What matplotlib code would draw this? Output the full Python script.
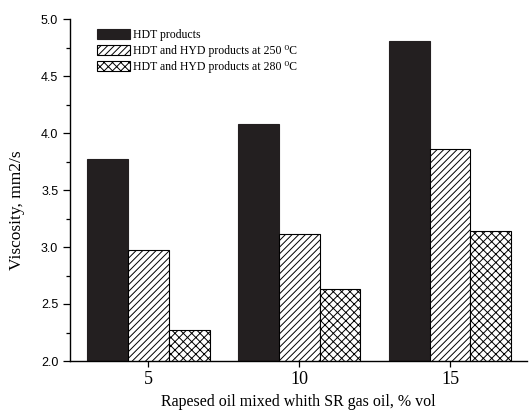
import numpy as np
import matplotlib.pyplot as plt
from matplotlib.ticker import MultipleLocator

# Daten
categories = ['5', '10', '15']
hdt = [3.77, 4.08, 4.81]
hyd_250 = [2.97, 3.11, 3.86]
hyd_280 = [2.27, 2.63, 3.14]
labels = ['HDT products', 'HDT and HYD products at 250 \u2070C', 'HDT and HYD products at 280 \u2070C']

plt.rcParams['hatch.linewidth'] = 0.7
serif = 'Liberation Serif'

fig = plt.figure(figsize=(5.3, 4.12), dpi=100)
ax = fig.add_axes([70 / 530, 51 / 412, 457 / 530, 342 / 412])

x = np.arange(1, len(categories) + 1)
w = 0.27
ax.bar(x - w, hdt, w, color='#231f20', edgecolor='#231f20', linewidth=0.8, label=labels[0])
ax.bar(x, hyd_250, w, color='white', edgecolor='black', hatch='/////', linewidth=0.8, label=labels[1])
ax.bar(x + w, hyd_280, w, color='white', edgecolor='black', hatch='xxxx', linewidth=0.8, label=labels[2])

ax.set_ylim(2.0, 5.0)
ax.set_xlim(0.48, 3.51)
ax.yaxis.set_major_locator(MultipleLocator(0.5))
ax.yaxis.set_minor_locator(MultipleLocator(0.25))
ax.set_xticks(x)
ax.set_xticklabels(categories, fontfamily=serif, fontsize=13)
for t in ax.get_yticklabels():
    t.set_fontfamily('Liberation Sans')
    t.set_fontsize(9)

ax.tick_params(axis='y', which='major', direction='out', length=5, width=0.9)
ax.tick_params(axis='y', which='minor', direction='out', length=3, width=0.9)
ax.tick_params(axis='x', direction='out', length=4, width=0.9)

ax.spines['top'].set_visible(False)
ax.spines['right'].set_visible(False)
ax.spines['left'].set_linewidth(1.0)
ax.spines['bottom'].set_linewidth(1.0)

ax.set_ylabel('Viscosity, mm2/s', fontfamily=serif, fontsize=12.5)
ax.yaxis.set_label_coords(-0.098, 0.44)
ax.set_xlabel('Rapesed oil mixed whith SR gas oil, % vol', fontfamily=serif, fontsize=11.5, labelpad=4)

ax.legend(loc='upper left', bbox_to_anchor=(0.04, 0.995), frameon=False,
          prop={'family': [serif, 'DejaVu Serif'], 'size': 8.5}, handlelength=2.8, handleheight=0.85,
          labelspacing=0.35, handletextpad=0.25, borderpad=0.2)

fig.savefig('out.png', dpi=100)
